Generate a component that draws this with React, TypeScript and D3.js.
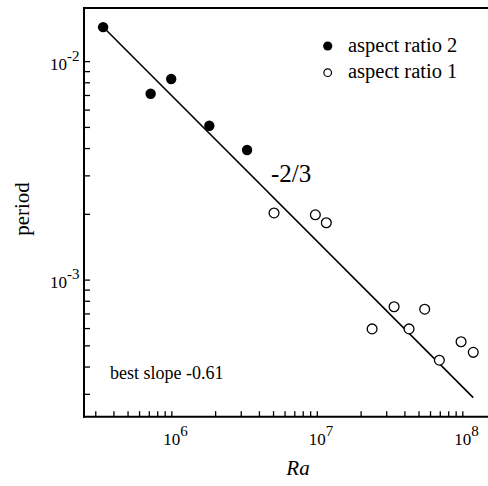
import React from "react";
import * as d3 from "d3";

// Aspect ratio 2 runs (filled markers)
const ra2 = [3.37e5, 7.15e5, 9.9e5, 1.81e6, 3.29e6];
const period2 = [0.01438, 7.13e-3, 8.33e-3, 5.09e-3, 3.94e-3];

// Aspect ratio 1 runs (open markers)
const ra1 = [5.04e6, 9.69e6, 1.153e7, 2.38e7, 3.37e7, 4.27e7, 5.47e7, 6.9e7, 9.73e7, 1.18e8];
const period1 = [2.03e-3, 1.99e-3, 1.83e-3, 5.98e-4, 7.55e-4, 5.98e-4, 7.36e-4, 4.3e-4, 5.22e-4, 4.67e-4];

// Reference power law: period ~ Ra^(-2/3)
const fitSlope = -2 / 3;
const fitAnchor = { ra: 3.37e5, period: 0.0144 };
const fitRange = [3.37e5, 1.18e8];

const xMajor = [1e6, 1e7, 1e8];
const xMajorExp = ["6", "7", "8"];
const yMajor = [1e-2, 1e-3];
const yMajorExp = ["-2", "-3"];

const legendLabels = ["aspect ratio 2", "aspect ratio 1"];
const slopeLabel = "-2/3";
const bestSlopeLabel = "best slope -0.61";

const W = 488;
const H = 486;
const left = 84;
const right = 488;
const top = 8;
const bottom = 416.7;
const serif = { fontFamily: "Liberation Serif, DejaVu Serif, serif" };

export default function App() {
  const x = d3.scaleLog().domain([2.49e5, 1.49e8]).range([left, right]);
  const y = d3.scaleLog().domain([2.37e-4, 0.0176]).range([bottom, top]);

  const minorX: number[] = [];
  for (let e = 5; e <= 8; e++) {
    for (let m = 1; m <= 9; m++) {
      const v = m * Math.pow(10, e);
      if (v >= 2.49e5 && v <= 1.49e8) minorX.push(v);
    }
  }
  const minorY: number[] = [];
  for (let e = -4; e <= -2; e++) {
    for (let m = 1; m <= 9; m++) {
      const v = m * Math.pow(10, e);
      if (v >= 2.37e-4 && v <= 0.0176) minorY.push(v);
    }
  }

  const fitPeriod = (r: number) =>
    fitAnchor.period * Math.pow(r / fitAnchor.ra, fitSlope);
  const fitLine = d3
    .line<number>()
    .x((r) => x(r))
    .y((r) => y(fitPeriod(r)));

  return (
    <svg
      width={W}
      height={H}
      style={{ position: "absolute", left: 0, top: 0, background: "#fff" }}
    >
      <rect width={W} height={H} fill="#fff" />
      {/* frame */}
      <line x1={left} x2={right} y1={top} y2={top} stroke="#000" strokeWidth={2} />
      <line x1={left} x2={left} y1={top - 1} y2={bottom + 1} stroke="#000" strokeWidth={2} />
      <line x1={left - 1} x2={right} y1={bottom} y2={bottom} stroke="#000" strokeWidth={2} />

      {/* ticks */}
      {minorX.map((v, i) => (
        <line key={"xt" + i} x1={x(v)} x2={x(v)} y1={bottom} y2={bottom - 5.5} stroke="#000" strokeWidth={1.3} />
      ))}
      {minorY.map((v, i) => (
        <line key={"yt" + i} x1={left} x2={left + 6} y1={y(v)} y2={y(v)} stroke="#000" strokeWidth={1.3} />
      ))}

      {/* tick labels */}
      {xMajor.map((v, i) => (
        <text key={"xl" + i} x={x(v) - 8.5} y={445} fontSize={17} fill="#000" style={serif}>
          10
          <tspan dy={-9} fontSize={15}>{xMajorExp[i]}</tspan>
        </text>
      ))}
      {yMajor.map((v, i) => (
        <text key={"yl" + i} x={50} y={y(v) + 8} fontSize={17} fill="#000" style={serif}>
          10
          <tspan dy={-9} fontSize={15}>{yMajorExp[i]}</tspan>
        </text>
      ))}

      {/* fit line */}
      <path d={fitLine(fitRange) || ""} fill="none" stroke="#000" strokeWidth={1.6} />

      {/* data */}
      {ra2.map((r, i) => (
        <circle key={"f" + i} cx={x(r)} cy={y(period2[i])} r={5.2} fill="#000" />
      ))}
      {ra1.map((r, i) => (
        <circle key={"o" + i} cx={x(r)} cy={y(period1[i])} r={4.9} fill="#fff" stroke="#000" strokeWidth={1.3} />
      ))}

      {/* legend */}
      <circle cx={327.7} cy={46} r={4.6} fill="#000" />
      <circle cx={327.7} cy={72.7} r={3.8} fill="#fff" stroke="#000" strokeWidth={1.2} />
      <text x={348} y={52} fontSize={20.5} fill="#000" style={serif}>{legendLabels[0]}</text>
      <text x={348} y={78} fontSize={20.5} fill="#000" style={serif}>{legendLabels[1]}</text>

      {/* annotations */}
      <text x={271} y={182} fontSize={25} fill="#000" style={serif}>{slopeLabel}</text>
      <text x={110} y={379} fontSize={18} fill="#000" style={serif}>{bestSlopeLabel}</text>

      {/* axis titles */}
      <text x={298} y={475} fontSize={21} fontStyle="italic" textAnchor="middle" fill="#000" style={serif}>Ra</text>
      <text transform="translate(29,209) rotate(-90)" fontSize={21} textAnchor="middle" fill="#000" style={serif}>period</text>
    </svg>
  );
}
